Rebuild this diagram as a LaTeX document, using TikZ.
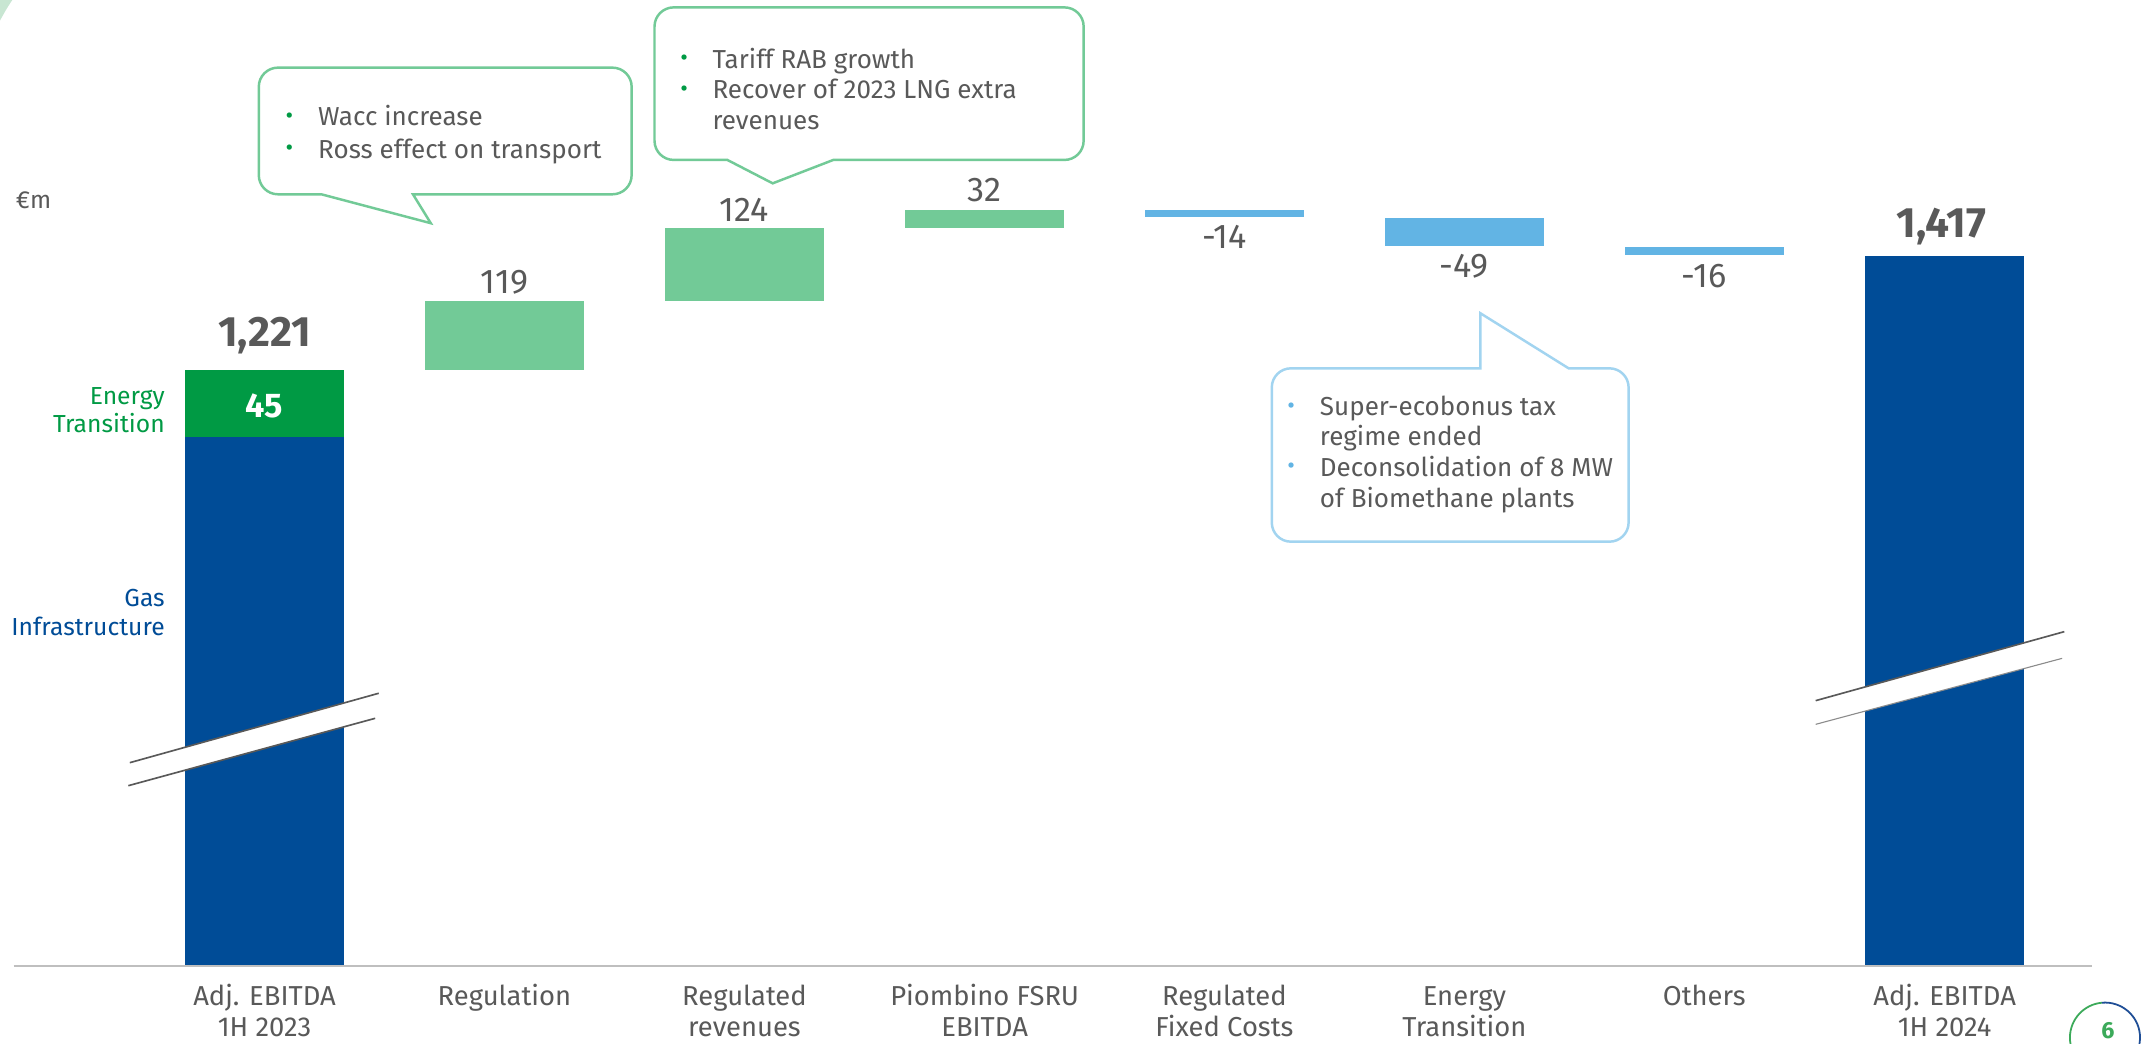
\documentclass[tikz,border=0pt]{standalone}
\usepackage{fontspec}
\setmainfont{Fira Sans}
\definecolor{dblue}{HTML}{004C97}
\definecolor{egreen}{HTML}{009A44}
\definecolor{lgreen}{HTML}{72CA97}
\definecolor{lblue}{HTML}{62B4E4}
\definecolor{cblue}{HTML}{A2D4F0}
\definecolor{tgray}{HTML}{595959}
\definecolor{agray}{HTML}{BFBFBF}
\definecolor{deco}{HTML}{C8E6D2}
\definecolor{pgreen}{HTML}{3CAA5A}
\definecolor{pblue}{HTML}{1F4E96}
\tikzset{
  val/.style={text=tgray, font=\fontsize{25}{29}\selectfont, inner sep=0pt, anchor=base},
  tot/.style={text=tgray, font=\fontsize{31}{36}\selectfont\bfseries, inner sep=0pt, anchor=base},
  cat/.style={text=tgray, font=\fontsize{20}{23}\selectfont, inner sep=0pt, anchor=base},
  side/.style={font=\fontsize{18}{21}\selectfont, inner sep=0pt, anchor=base east},
  ctext/.style={text=tgray, font=\fontsize{19}{23}\selectfont, inner sep=0pt, anchor=base west},
  bul/.style={font=\fontsize{17}{17}\selectfont, inner sep=0pt, anchor=base},
  cog/.style={draw=lgreen, line width=1.8pt, fill=white, line join=miter},
  cob/.style={draw=cblue, line width=1.8pt, fill=white, line join=miter},
  brk/.style={draw=tgray, line width=1.2pt},
  brkl/.style={draw=tgray!70, line width=0.8pt},
}
\begin{document}
\begin{tikzpicture}[x=1pt,y=-1pt]
\useasboundingbox (0,0) rectangle (1568,762);
\fill[white] (0,0) rectangle (1568,762);
% corner decoration
\fill[deco] (0,0) -- (9,0) .. controls (5,6) .. (0,15) -- cycle;

% ---------- bars ----------
% start bar
\fill[dblue] (135.1,319.1) rectangle (251.3,705.2);
\fill[egreen] (135.1,270.2) rectangle (251.3,319.1);
\fill[white] (94.8,557) -- (276.6,506.3) -- (274,524.6) -- (93.7,573.8) -- cycle;
\draw[brk] (94.8,557) -- (276.6,506.3);
\draw[brk] (93.7,573.8) -- (274,524.6);
% waterfall steps
\fill[lgreen] (310.3,219.6) rectangle (426.5,270.2);
\fill[lgreen] (485.6,166.7) rectangle (601.9,219.6);
\fill[lgreen] (661.0,153.4) rectangle (777.3,166.7);
\fill[lblue]  (836.1,153.4) rectangle (952.3,158.8);
\fill[lblue]  (1011.4,159.5) rectangle (1127.6,179.4);
\fill[lblue]  (1186.5,180.1) rectangle (1302.7,186.2);
% end bar
\fill[dblue] (1362.0,187.0) rectangle (1478.4,705.2);
\fill[white] (1326,511.7) -- (1507.6,461.3) -- (1506,480.8) -- (1326,529) -- cycle;
\draw[brk] (1326,511.7) -- (1507.6,461.3);
\draw[brkl] (1326,529) -- (1506,480.8);
% axis
\draw[agray, line width=1.6pt] (10,705.6) -- (1528,705.6);

% ---------- values ----------
\node[tot] (v0) at (193.2,253.2) {1,221};
\node[val] (v1) at (368.4,214.2) {119};
\node[val] (v2) at (543.7,161.9) {124};
\node[val] (v3) at (719.1,147.3) {32};
\node[val] (v4) at (894.2,181.4) {-14};
\node[val] (v5) at (1069.5,202.5) {-49};
\node[val] (v6) at (1244.6,209.9) {-16};
\node[tot] (v7) at (1418.0,173.3) {1,417};
\node[text=white, font=\fontsize{25}{29}\selectfont\bfseries, inner sep=0pt, anchor=base] (v45) at (193.2,304.8) {45};

% ---------- side labels ----------
\node[side, text=egreen] (et1) at (120.5,295.3) {Energy};
\node[side, text=egreen] (et2) at (120.5,316.0) {Transition};
\node[side, text=dblue] (gi1) at (120.5,443.0) {Gas};
\node[side, text=dblue] (gi2) at (120.5,463.8) {Infrastructure};
\node[text=tgray, font=\fontsize{18}{21}\selectfont, inner sep=0pt, anchor=base west] (unit) at (11.4,152.6) {€m};

% ---------- categories ----------
\node[cat] (c0a) at (193.2,734) {Adj. EBITDA};
\node[cat] (c0b) at (193.2,757) {1H 2023};
\node[cat] (c1a) at (368.4,734) {Regulation};
\node[cat] (c2a) at (543.7,734) {Regulated};
\node[cat] (c2b) at (543.7,757) {revenues};
\node[cat] (c3a) at (719.1,734) {Piombino FSRU};
\node[cat] (c3b) at (719.1,757) {EBITDA};
\node[cat] (c4a) at (894.2,734) {Regulated};
\node[cat] (c4b) at (894.2,757) {Fixed Costs};
\node[cat] (c5a) at (1069.5,734) {Energy};
\node[cat] (c5b) at (1069.5,757) {Transition};
\node[cat] (c6a) at (1244.6,734) {Others};
\node[cat] (c7a) at (1420.2,734) {Adj. EBITDA};
\node[cat] (c7b) at (1420.2,757) {1H 2024};

% ---------- callouts ----------
\draw[cog] (301.6,141.9) -- (447.3,141.9) arc[start angle=90,end angle=0,radius=14]
  -- (461.3,63.4) arc[start angle=0,end angle=-90,radius=14]
  -- (203,49.4) arc[start angle=-90,end angle=-180,radius=14]
  -- (189,127.9) arc[start angle=180,end angle=90,radius=14]
  -- (234.7,141.9) -- (314.6,163) -- cycle;
\node[bul, text=egreen] (wb1) at (211.3,90) {•};
\node[bul, text=egreen] (wb2) at (211.3,113.6) {•};
\node[ctext] (w1) at (232.2,92) {Wacc increase};
\node[ctext] (w2) at (232.2,115.6) {Ross effect on transport};

\draw[cog] (608.6,116.8) -- (777.4,116.8) arc[start angle=90,end angle=0,radius=14]
  -- (791.4,19.4) arc[start angle=0,end angle=-90,radius=14]
  -- (492,5.4) arc[start angle=-90,end angle=-180,radius=14]
  -- (478,102.8) arc[start angle=180,end angle=90,radius=14]
  -- (531.2,116.8) -- (564.3,133.9) -- cycle;
\node[bul, text=egreen] (tb1) at (499.7,47.9) {•};
\node[bul, text=egreen] (tb2) at (499.7,70.3) {•};
\node[ctext] (t1) at (520.2,49.9) {Tariff RAB growth};
\node[ctext] (t2) at (520.2,72.3) {Recover of 2023 LNG extra};
\node[ctext] (t3) at (520.2,94.4) {revenues};

\draw[cob] (1145.6,269) -- (1175.4,269) arc[start angle=-90,end angle=0,radius=14]
  -- (1189.4,381.6) arc[start angle=0,end angle=90,radius=14]
  -- (942.8,395.6) arc[start angle=90,end angle=180,radius=14]
  -- (928.8,283) arc[start angle=180,end angle=270,radius=14]
  -- (1081.2,269) -- (1081.2,228.8) -- cycle;
\node[bul, text=lblue] (sb1) at (943,301.8) {•};
\node[bul, text=lblue] (sb2) at (943,346.1) {•};
\node[ctext] (s1) at (963.8,303.8) {Super-ecobonus tax};
\node[ctext] (s2) at (963.8,325.7) {regime ended};
\node[ctext] (s3) at (963.8,348.1) {Deconsolidation of 8 MW};
\node[ctext] (s4) at (963.8,370.8) {of Biomethane plants};

% ---------- page number ----------
\draw[pgreen, line width=1.3pt] (1537.3,757.8) ++(90:25.6) arc[start angle=90,end angle=265,radius=25.6];
\draw[pblue, line width=1.3pt] (1537.3,757.8) ++(-95:25.6) arc[start angle=-95,end angle=90,radius=25.6];
\node[text=pgreen, font=\fontsize{17}{20}\selectfont\bfseries, inner sep=0pt, anchor=base] (pg) at (1539.5,758.5) {6};
\end{tikzpicture}
\end{document}
